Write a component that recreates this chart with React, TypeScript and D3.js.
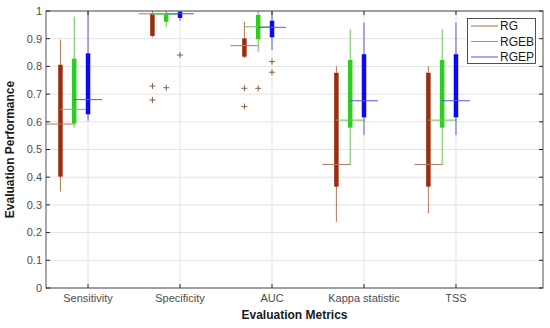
import { useMemo } from "react";
import * as d3 from "d3";

const categories = ["Sensitivity", "Specificity", "AUC", "Kappa statistic", "TSS"];
const seriesNames = ["RG", "RGEB", "RGEP"];
const yTicks = [0, 0.1, 0.2, 0.3, 0.4, 0.5, 0.6, 0.7, 0.8, 0.9, 1];

// per series, per category: [whiskerLow, q1, median, q3, whiskerHigh]
const rgStats = [
  [0.348, 0.402, 0.592, 0.806, 0.897],
  [0.905, 0.91, 0.99, 0.99, 1.0],
  [0.83, 0.835, 0.875, 0.901, 0.961],
  [0.239, 0.366, 0.446, 0.777, 0.801],
  [0.27, 0.366, 0.446, 0.777, 0.801],
];
const rgebStats = [
  [0.579, 0.594, 0.645, 0.828, 0.98],
  [0.943, 0.961, 0.988, 0.99, 1.0],
  [0.853, 0.898, 0.943, 0.986, 1.0],
  [0.444, 0.579, 0.606, 0.823, 0.934],
  [0.444, 0.579, 0.606, 0.823, 0.934],
];
const rgepStats = [
  [0.604, 0.627, 0.68, 0.847, 1.0],
  [0.965, 0.975, 0.99, 0.997, 0.997],
  [0.859, 0.905, 0.941, 0.965, 1.0],
  [0.552, 0.616, 0.676, 0.844, 0.958],
  [0.552, 0.616, 0.676, 0.844, 0.958],
];
const rgOutliers = [[], [0.729, 0.679], [0.721, 0.655], [], []];
const rgebOutliers = [[], [0.723], [0.721], [], []];
const rgepOutliers = [[], [0.841], [0.817, 0.779], [], []];

const boxColors = ["#9a2c10", "#2fcc22", "#0a0aee"];
const whiskerColors = ["#b5795a", "#66c25a", "#5a5ae0"];
const legendColors = ["#a0704a", "#66c23a", "#4a4ae0"];
const offsets = [-0.3, -0.15, 0];

const W = 550;
const H = 328;
const M = { left: 46, right: 7, top: 11, bottom: 40 };
const font = "'Liberation Sans', Arial, sans-serif";

export default function App() {
  const x = useMemo(
    () => d3.scaleLinear().domain([0.543, 5.946]).range([M.left, W - M.right]),
    []
  );
  const y = useMemo(
    () => d3.scaleLinear().domain([0, 1]).range([H - M.bottom, M.top]),
    []
  );
  const stats = [rgStats, rgebStats, rgepStats];
  const outliers = [rgOutliers, rgebOutliers, rgepOutliers];
  const x0 = M.left;
  const x1 = W - M.right;
  const y0 = H - M.bottom;
  const y1 = M.top;
  const axisColor = "#262626";
  const medHalf = 14;

  return (
    <svg
      width={W}
      height={H}
      style={{ position: "absolute", left: 0, top: 0, background: "#fff" }}
      fontFamily={font}
    >
      {/* grid */}
      {yTicks.map((t) => (
        <line key={"gy" + t} x1={x0} x2={x1} y1={y(t)} y2={y(t)} stroke="#e3e3e3" />
      ))}
      {categories.map((c, i) => (
        <line key={"gx" + c} x1={x(i + 1)} x2={x(i + 1)} y1={y0} y2={y1} stroke="#e3e3e3" />
      ))}

      {/* boxes */}
      {stats.map((s, si) =>
        s.map((d, ci) => {
          const cx = x(ci + 1 + offsets[si]);
          const [wl, q1, med, q3, wh] = d;
          return (
            <g key={`b${si}-${ci}`}>
              <line x1={cx} x2={cx} y1={y(wl)} y2={y(wh)} stroke={whiskerColors[si]} strokeWidth={1} />
              <line x1={cx} x2={cx} y1={y(q1)} y2={y(q3)} stroke={boxColors[si]} strokeWidth={4.5} />
              <line
                x1={cx - medHalf}
                x2={cx + medHalf}
                y1={y(med)}
                y2={y(med)}
                stroke={whiskerColors[si]}
                strokeWidth={1}
              />
            </g>
          );
        })
      )}

      {/* outliers */}
      {outliers.map((s, si) =>
        s.map((vals, ci) =>
          vals.map((v, k) => {
            const cx = x(ci + 1 + offsets[si]);
            const cy = y(v);
            return (
              <g key={`o${si}-${ci}-${k}`} stroke="#8a6040" strokeWidth={1}>
                <line x1={cx - 3} x2={cx + 3} y1={cy} y2={cy} />
                <line x1={cx} x2={cx} y1={cy - 3} y2={cy + 3} />
              </g>
            );
          })
        )
      )}

      {/* axes box */}
      <rect x={x0} y={y1} width={x1 - x0} height={y0 - y1} fill="none" stroke={axisColor} strokeWidth={0.8} />
      {yTicks.map((t) => (
        <g key={"ty" + t}>
          <line x1={x0} x2={x0 + 4} y1={y(t)} y2={y(t)} stroke={axisColor} />
          <line x1={x1} x2={x1 - 4} y1={y(t)} y2={y(t)} stroke={axisColor} />
          <text x={x0 - 4} y={y(t)} dy="0.35em" textAnchor="end" fontSize={11} fill="#4d4d4d">
            {t}
          </text>
        </g>
      ))}
      {categories.map((c, i) => (
        <g key={"tx" + c}>
          <line x1={x(i + 1)} x2={x(i + 1)} y1={y0} y2={y0 - 4} stroke={axisColor} />
          <line x1={x(i + 1)} x2={x(i + 1)} y1={y1} y2={y1 + 4} stroke={axisColor} />
          <text x={x(i + 1)} y={y0 + 14} textAnchor="middle" fontSize={11} fill="#4d4d4d">
            {c}
          </text>
        </g>
      ))}

      {/* labels */}
      <text x={(x0 + x1) / 2} y={H - 9} textAnchor="middle" fontSize={12} fontWeight="bold" fill="#1a1a1a">
        Evaluation Metrics
      </text>
      <text
        transform={`translate(14,${(y0 + y1) / 2}) rotate(-90)`}
        textAnchor="middle"
        fontSize={12}
        fontWeight="bold"
        fill="#1a1a1a"
      >
        Evaluation Performance
      </text>

      {/* legend */}
      <g>
        <rect x={467.5} y={18.5} width={68} height={45} fill="#fff" stroke={axisColor} strokeWidth={0.8} />
        {seriesNames.map((n, i) => (
          <g key={"l" + n}>
            <line x1={471} x2={498} y1={26 + i * 15.5} y2={26 + i * 15.5} stroke={legendColors[i]} />
            <text x={500} y={26 + i * 15.5} dy="0.35em" fontSize={12} fill="#1a1a1a">
              {n}
            </text>
          </g>
        ))}
      </g>
    </svg>
  );
}
